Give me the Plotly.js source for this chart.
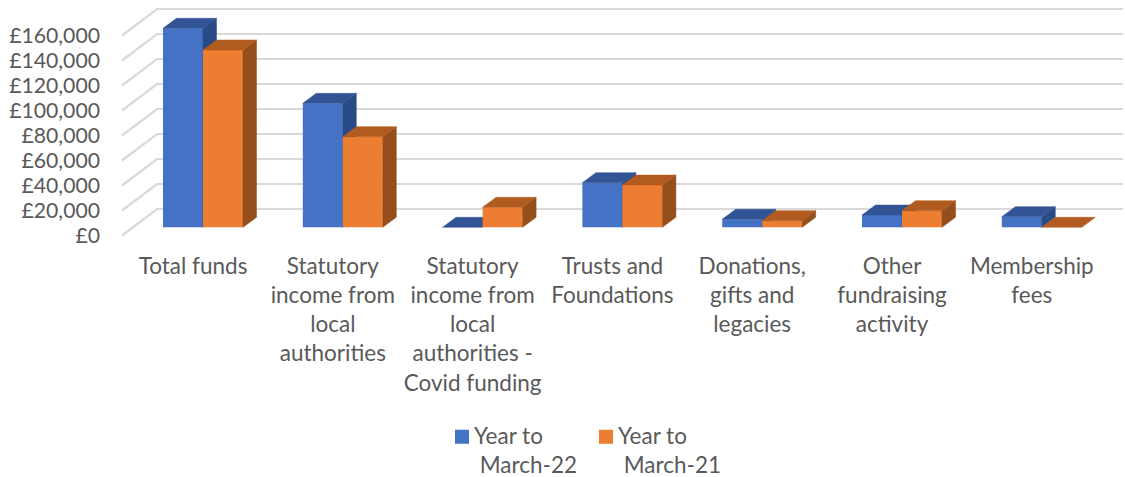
<!DOCTYPE html>
<html>
<head>
<meta charset="utf-8">
<script src="https://cdn.plot.ly/plotly-3.0.1.min.js"></script>
<style>html,body{margin:0;padding:0;background:#fff}</style>
</head>
<body>
<div id="chart" style="width:1125px;height:477px"></div>
<script>
const categories = ["Total funds","Statutory income from local authorities","Statutory income from local authorities - Covid funding","Trusts and Foundations","Donations, gifts and legacies","Other fundraising activity","Membership fees"];
const tickLabels = ["Total funds","Statutory<br>income from<br>local<br>authorities","Statutory<br>income from<br>local<br>authorities -<br>Covid funding","Trusts and<br>Foundations","Donations,<br>gifts and<br>legacies","Other<br>fundraising<br>activity","Membership<br>fees"];
const year22 = [159200,99200,0,35700,6400,9800,8500];
const year21 = [141800,72500,16000,33800,5300,13300,0];
const yTicks = [0,20000,40000,60000,80000,100000,120000,140000,160000];
const yTickLabels = ["£0","£20,000","£40,000","£60,000","£80,000","£100,000","£120,000","£140,000","£160,000"];
const seriesNames = ["Year to<br>&nbsp;March-22","Year to<br>&nbsp;March-21"];

// Pixel geometry of the oblique projection
const W=1125, H=477, mL=101, mB=232, plotBottom=H-mB;
const stepPx=139.8, barPx=40, depthXPx=13.5, depthYPx=10;
const unitsPerPx=800;
const labelX0=193, barX0=203;      // px of category 0 for labels / bars
const frontBase=235.5, barBase=227.3; // px of value 0 on tick plane / bar plane
const wallBackDelta=26.5;             // px rise from wall front to back
const wallFrontPx=122, wallBackPx=157, wallEndPx=1123;

const xr = x0 => [(mL-x0)/stepPx,(W-x0)/stepPx];
const yr = base => [(base-plotBottom)*unitsPerPx, base*unitsPerPx];
const toLabelX = px => (px-labelX0)/stepPx;

const fdx=depthXPx/stepPx, fw=barPx/stepPx, fdy=depthYPx*unitsPerPx;

function poly(xs,ys,color,xa,ya){
  return {type:'scatter',mode:'lines',x:xs.concat(xs[0]),y:ys.concat(ys[0]),fill:'toself',fillcolor:color,
    line:{color:color,width:0.5},hoverinfo:'skip',showlegend:false,xaxis:xa,yaxis:ya};
}
function faces(values,off,topC,sideC,xa,ya){
  const out=[];
  values.forEach((v,i)=>{
    const l=i+off*fw, r=l+fw;
    if(v>0) out.push(poly([r,r+fdx,r+fdx,r],[0,fdy,v+fdy,v],sideC,xa,ya));
    out.push(poly([l,r,r+fdx,l+fdx],[v,v,v+fdy,v+fdy],topC,xa,ya));
  });
  return out;
}
// wall and back gridlines
const gx=[],gy=[];
yTicks.forEach(t=>{
  gx.push(toLabelX(wallFrontPx),toLabelX(wallBackPx),toLabelX(wallEndPx),null);
  gy.push(t,t+wallBackDelta*unitsPerPx,t+wallBackDelta*unitsPerPx,null);
});
const idx=categories.map((_,i)=>i);
const traces=[
  {type:'scatter',mode:'lines',x:gx,y:gy,line:{color:'#d9d9d9',width:2.2},hoverinfo:'skip',showlegend:false,xaxis:'x',yaxis:'y'},
  {type:'bar',name:seriesNames[0],x:idx,y:year22,width:fw,offset:-fw,marker:{color:'#4472C4'},xaxis:'x2',yaxis:'y2'},
  ...faces(year22,-1,'#325494','#294B85','x2','y2'),
  {type:'bar',name:seriesNames[1],x:idx,y:year21,width:fw,offset:0,marker:{color:'#ED7D31'},xaxis:'x3',yaxis:'y3'},
  ...faces(year21,0,'#B25B21','#954F1A','x3','y3')
];
const fontLato='Lato, sans-serif';
const grey='#595959';
const layout={
  width:W,height:H,margin:{l:mL,r:0,t:0,b:mB,autoexpand:false},paper_bgcolor:'#fff',plot_bgcolor:'rgba(0,0,0,0)',
  showlegend:true,barmode:'overlay',
  font:{family:fontLato,color:grey},
  xaxis:{range:xr(labelX0),tickmode:'array',tickvals:idx,ticktext:tickLabels,ticklabelstandoff:5,
    showgrid:false,zeroline:false,showline:false,ticks:'',tickangle:0,tickfont:{family:fontLato,size:22.5,color:grey},automargin:false},
  yaxis:{range:yr(frontBase),tickmode:'array',tickvals:yTicks,ticktext:yTickLabels,
    showgrid:false,zeroline:false,showline:false,ticks:'',tickfont:{family:fontLato,size:21.2,color:grey},automargin:false},
  xaxis2:{overlaying:'x',range:xr(barX0),visible:false},
  yaxis2:{overlaying:'y',range:yr(barBase),visible:false},
  xaxis3:{overlaying:'x',range:xr(barX0),visible:false},
  yaxis3:{overlaying:'y',range:yr(barBase),visible:false},
  legend:{orientation:'h',x:(434-mL)/(W-mL),xanchor:'left',y:-(414-plotBottom)/(H-mB),yanchor:'top',
    entrywidth:99,entrywidthmode:'pixels',traceorder:'normal',font:{family:fontLato,size:22.5,color:grey}}
};
Plotly.newPlot('chart',traces,layout,{displayModeBar:false,responsive:false}).then(()=>{
  // legend swatches sit beside the first text line, as 14px squares
  document.querySelectorAll('#chart .legend .legendsymbols .legendpoints path').forEach(p=>{
    p.setAttribute('d','M7,7H-7V-7H7Z');
    const t=p.getAttribute('transform')||'';
    p.setAttribute('transform','translate(8,-13) '+t);
  });
});
</script>
</body>
</html>
